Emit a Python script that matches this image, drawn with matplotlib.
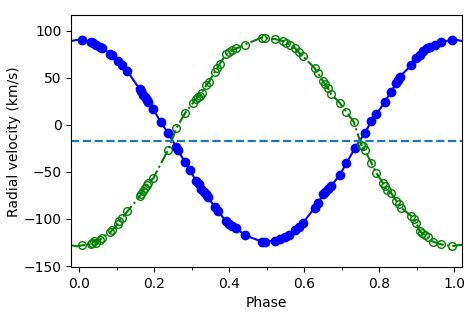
import numpy as np
import matplotlib
matplotlib.use("Agg")
import matplotlib.pyplot as plt
from matplotlib.ticker import MultipleLocator

# primary star (filled blue)
phase_a = [0.008, 0.030, 0.037, 0.045, 0.056, 0.061, 0.083, 0.087, 0.104, 0.114,
           0.128, 0.161, 0.165, 0.170, 0.175, 0.180, 0.183, 0.197, 0.217, 0.237,
           0.259, 0.263, 0.281, 0.295, 0.312, 0.318, 0.325, 0.332, 0.338, 0.343,
           0.361, 0.370, 0.392, 0.400, 0.408, 0.419, 0.441, 0.486, 0.495, 0.521,
           0.535, 0.548, 0.560, 0.575, 0.587, 0.597, 0.628, 0.637, 0.650, 0.656,
           0.663, 0.672, 0.695, 0.712, 0.735, 0.761, 0.779, 0.792, 0.815, 0.831,
           0.846, 0.851, 0.855, 0.886, 0.899, 0.908, 0.918, 0.927, 0.935, 0.948,
           0.966, 0.993]
rv_a = [90, 88, 86.5, 85, 82.5, 81.5, 75, 74, 68, 63,
        57, 38, 35.5, 32, 29, 26, 24, 16.5, 3, -9,
        -24, -27, -39, -48, -60, -63, -68, -71, -74, -77,
        -87, -92, -102.5, -105, -107, -110, -117, -124, -124, -123,
        -121, -119, -116.5, -112, -108, -104, -88, -83, -74, -71,
        -68, -65, -53, -41, -25, -9, 3.5, 11, 24, 35,
        44, 48, 51, 63.5, 71, 74.5, 78, 81, 83, 85,
        88, 90]

# secondary star (open green)
phase_b = [0.008, 0.030, 0.035, 0.040, 0.045, 0.056, 0.061, 0.083, 0.087, 0.104,
           0.107, 0.114, 0.128, 0.161, 0.165, 0.170, 0.175, 0.180, 0.183, 0.197,
           0.237, 0.259, 0.283, 0.303, 0.310, 0.316, 0.322, 0.326, 0.339, 0.345,
           0.361, 0.368, 0.375, 0.392, 0.400, 0.408, 0.419, 0.441, 0.486, 0.495,
           0.521, 0.543, 0.552, 0.562, 0.575, 0.585, 0.597, 0.628, 0.637, 0.650,
           0.656, 0.663, 0.672, 0.695, 0.712, 0.732, 0.752, 0.756, 0.761, 0.779,
           0.792, 0.810, 0.815, 0.820, 0.832, 0.846, 0.852, 0.859, 0.886, 0.892,
           0.899, 0.908, 0.915, 0.922, 0.929, 0.943, 0.966, 0.993]
rv_b = [-128, -127, -125, -123, -126, -122, -120, -114, -112, -105,
        -102, -99, -92, -76, -73, -70, -67, -64, -62, -57,
        -26.5, -3.5, 13, 23, 27, 29, 31, 34, 42, 45,
        56, 60, 65, 75, 77, 79, 81, 85, 92.5, 92,
        91, 89, 87, 85, 81.5, 77, 72.5, 60, 55, 46,
        43, 39, 32.5, 23, 14, 3, -21, -23, -26.5, -40.5,
        -51, -62, -65, -69, -72.5, -81, -84, -88, -97, -100,
        -104, -113, -115, -117, -119.5, -124, -127, -129]

gamma = -17.7


def wrapped(ph, rv):
    # repeat one cycle on each side so the line runs to the axis edges
    ph = np.asarray(ph)
    rv = np.asarray(rv)
    p = np.concatenate([ph - 1, ph, ph + 1])
    v = np.concatenate([rv, rv, rv])
    order = np.argsort(p)
    return p[order], v[order]


fig = plt.figure(figsize=(4.74, 3.16), dpi=100)
ax = fig.add_axes([0.150, 0.155, 0.824, 0.796])

pa, va = wrapped(phase_a, rv_a)
pb, vb = wrapped(phase_b, rv_b)

ax.plot(pa, va, '-', color='b', lw=1.5)
ax.plot(phase_a, rv_a, 'o', color='b', ms=6)
ax.plot(pb, vb, '-.', color='g', lw=1.5)
ax.plot(phase_b, rv_b, 'o', color='g', mfc='none', ms=5.5, mew=1.0)
ax.axhline(gamma, ls='--', color='C0', lw=1.6)

ax.set_xlim(-0.022, 1.02)
ax.set_ylim(-151, 116)
ax.xaxis.set_major_locator(MultipleLocator(0.2))
ax.xaxis.set_minor_locator(MultipleLocator(0.1))
ax.yaxis.set_major_locator(MultipleLocator(50))
ax.set_xlabel('Phase')
ax.set_ylabel('Radial velocity (km/s)', labelpad=2)

fig.savefig('out.png', dpi=100)
